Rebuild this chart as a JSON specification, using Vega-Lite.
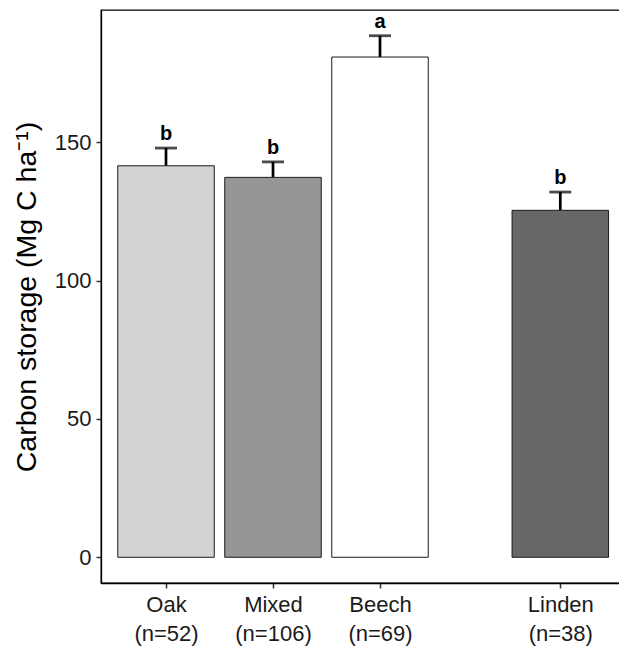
{
  "$schema": "https://vega.github.io/schema/vega-lite/v6.json",
  "autosize": {"type": "none"},
  "padding": {"left": 101, "top": 10, "right": 0, "bottom": 66},
  "width": 520,
  "height": 573,
  "config": {
    "font": "Liberation Sans",
    "view": {"stroke": "#000000", "strokeWidth": 1.3}
  },
  "data": {
    "values": [
      {"forest": "Oak", "n": "(n=52)", "pos": 1, "mean": 141.5, "upper": 147.9, "group": "b", "fill": "#d3d3d3"},
      {"forest": "Mixed", "n": "(n=106)", "pos": 2, "mean": 137.3, "upper": 142.9, "group": "b", "fill": "#969696"},
      {"forest": "Beech", "n": "(n=69)", "pos": 3, "mean": 180.8, "upper": 188.5, "group": "a", "fill": "#ffffff"},
      {"forest": "Linden", "n": "(n=38)", "pos": 4.685, "mean": 125.4, "upper": 132.0, "group": "b", "fill": "#676767"}
    ]
  },
  "layer": [
    {
      "mark": {"type": "rule", "color": "#000000", "strokeWidth": 2.7},
      "encoding": {
        "x": {
          "field": "pos",
          "type": "quantitative",
          "scale": {"domain": [0.3925, 5.2523], "nice": false, "zero": false, "padding": 0},
          "axis": {
            "title": null,
            "values": [1, 2, 3, 4.685],
            "grid": false,
            "domainColor": "#000000",
            "domainWidth": 1.3,
            "tickColor": "#333333",
            "tickWidth": 1.5,
            "tickSize": 5,
            "labelFontSize": 22,
            "labelColor": "#1a1a1a",
            "labelPadding": 6,
            "labelLineHeight": 29,
            "labelBaseline": "top",
            "labelExpr": "datum.value == 1 ? ['Oak', '(n=52)'] : datum.value == 2 ? ['Mixed', '(n=106)'] : datum.value == 3 ? ['Beech', '(n=69)'] : ['Linden', '(n=38)']"
          }
        },
        "y": {
          "field": "mean",
          "type": "quantitative",
          "scale": {"domain": [-9.3, 197.8], "nice": false, "zero": false, "padding": 0},
          "axis": {
            "title": "Carbon storage (Mg C ha⁻¹)",
            "titleFontSize": 28.5,
            "titleFontWeight": "normal",
            "titleColor": "#000000",
            "titlePadding": 13,
            "values": [0, 50, 100, 150],
            "grid": false,
            "domainColor": "#000000",
            "domainWidth": 1.3,
            "tickColor": "#333333",
            "tickWidth": 1.5,
            "tickSize": 5,
            "labelFontSize": 22,
            "labelColor": "#1a1a1a",
            "labelPadding": 5
          }
        },
        "y2": {"field": "upper"}
      }
    },
    {
      "mark": {"type": "tick", "orient": "horizontal", "color": "#000000", "size": 22, "thickness": 2.8},
      "encoding": {
        "x": {"field": "pos", "type": "quantitative"},
        "y": {"field": "upper", "type": "quantitative"}
      }
    },
    {
      "mark": {"type": "bar", "width": 96.5, "stroke": "#1a1a1a", "strokeWidth": 1},
      "encoding": {
        "x": {"field": "pos", "type": "quantitative"},
        "y": {"field": "mean", "type": "quantitative"},
        "fill": {"field": "fill", "type": "nominal", "scale": null}
      }
    },
    {
      "mark": {"type": "text", "fontSize": 20, "fontWeight": "bold", "color": "#000000", "baseline": "bottom", "dy": -4},
      "encoding": {
        "x": {"field": "pos", "type": "quantitative"},
        "y": {"field": "upper", "type": "quantitative"},
        "text": {"field": "group", "type": "nominal"}
      }
    }
  ]
}
